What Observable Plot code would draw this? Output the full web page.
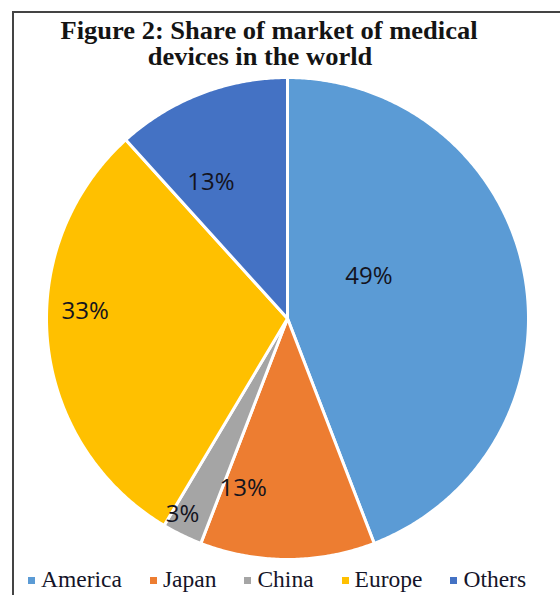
<!DOCTYPE html>
<html><head><meta charset="utf-8">
<script src="https://cdn.jsdelivr.net/npm/d3@7"></script>
<script src="https://cdn.jsdelivr.net/npm/@observablehq/plot@0.6"></script>
<style>
body{margin:0;background:#fff;}
#wrap{position:relative;width:560px;height:595px;overflow:hidden;font-family:"Liberation Serif","Times New Roman",serif;}
#chart{position:absolute;left:0;top:0;}
#frame{position:absolute;left:12px;top:11px;width:600px;height:640px;border-left:2px solid #444;border-top:2px solid #444;}
#title{position:absolute;left:0;width:560px;top:18px;font-weight:bold;font-size:25px;line-height:26px;color:#141414;}
#title div{text-align:center;transform:scaleX(1.06);}
#t1{margin-left:-22px;}
#t2{margin-left:-40px;}
#legend{position:absolute;left:28px;top:566px;display:flex;gap:28px;font-size:23.5px;line-height:26px;color:#141428;white-space:nowrap;}
#legend .it{display:flex;align-items:center;}
#legend .sw{width:7px;height:7px;margin-right:6px;margin-top:2px;}
</style></head>
<body>
<div id="wrap">
  <div id="chart"></div>
  <div id="frame"></div>
  <div id="title"><div id="t1">Figure 2: Share of market of medical</div><div id="t2">devices in the world</div></div>
  <div id="legend"></div>
</div>
<script>
const categories = ["America", "Japan", "China", "Europe", "Others"];
const values = [49, 13, 3, 33, 13];
const labels = ["49%", "13%", "3%", "33%", "13%"];
const colors = ["#5B9BD5", "#ED7D31", "#A5A5A5", "#FFC000", "#4472C4"];
// label placement (style): [radius fraction, angle offset in degrees]
const labelPlace = [[0.38, -16.6], [0.73, 14.6], [0.92, 2.3], [0.84, 7.7], [0.65, -8.2]];

const total = d3.sum(values);
let acc = 0;
const slices = categories.map((c, i) => {
  const a0 = acc / total * 2 * Math.PI;
  acc += values[i];
  const a1 = acc / total * 2 * Math.PI;
  return {c, i, a0, a1};
});
const pt = (a, r) => ({x: r * Math.sin(a), y: r * Math.cos(a)});
function poly(s) {
  const pts = [{x: 0, y: 0}];
  const n = Math.max(2, Math.ceil((s.a1 - s.a0) / (Math.PI / 360)));
  for (let k = 0; k <= n; k++) pts.push(pt(s.a0 + (s.a1 - s.a0) * k / n, 1));
  pts.push({x: 0, y: 0});
  return pts;
}
const labelData = slices.map(s => {
  const [rf, off] = labelPlace[s.i];
  const a = (s.a0 + s.a1) / 2 + off * Math.PI / 180;
  return {...pt(a, rf), text: labels[s.i]};
});

const plot = Plot.plot({
  width: 560, height: 595,
  marginTop: 0, marginRight: 0, marginBottom: 0, marginLeft: 0,
  x: {domain: [-1, 1], range: [46, 528], axis: null},
  y: {domain: [-1, 1], range: [559, 77], axis: null},
  style: {background: "transparent"},
  marks: [
    ...slices.map(s => Plot.line(poly(s), {x: "x", y: "y", fill: colors[s.i], stroke: "white", strokeWidth: 3, strokeLinejoin: "round"})),
    Plot.text(labelData, {x: "x", y: "y", text: "text", fontSize: 24, fontFamily: "'Open Sans', sans-serif", fill: "#14141e"})
  ]
});
document.getElementById("chart").appendChild(plot);

const leg = document.getElementById("legend");
categories.forEach((c, i) => {
  const it = document.createElement("div"); it.className = "it";
  const sw = document.createElement("span"); sw.className = "sw"; sw.style.background = colors[i];
  const tx = document.createElement("span"); tx.textContent = c;
  it.appendChild(sw); it.appendChild(tx); leg.appendChild(it);
});
</script>
</body></html>
